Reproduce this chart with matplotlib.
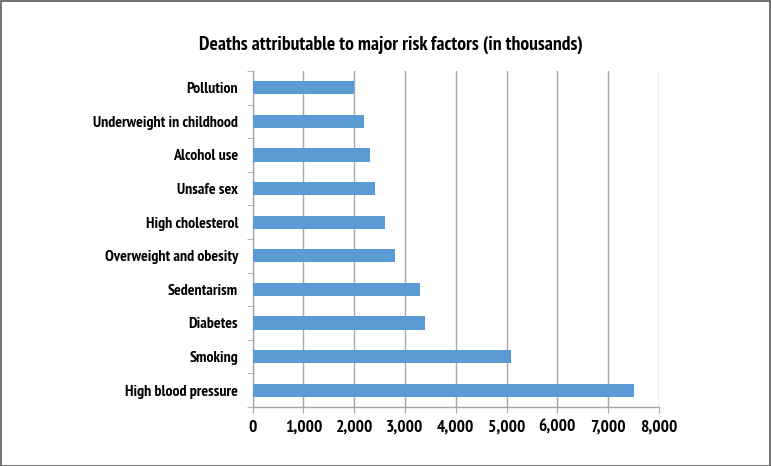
import matplotlib
matplotlib.use("Agg")
import matplotlib.pyplot as plt
from matplotlib import font_manager as fm
from matplotlib.ticker import FuncFormatter
from matplotlib.patches import Rectangle

categories = ["High blood pressure", "Smoking", "Diabetes", "Sedentarism",
              "Overweight and obesity", "High cholesterol", "Unsafe sex",
              "Alcohol use", "Underweight in childhood", "Pollution"]
values = [7500, 5080, 3400, 3300, 2800, 2600, 2400, 2300, 2200, 2000]
xticks = [0, 1000, 2000, 3000, 4000, 5000, 6000, 7000, 8000]
title = "Deaths attributable to major risk factors (in thousands)"

preferred = ["Liberation Sans Narrow", "Arial Narrow", "PT Sans Narrow",
             "Roboto Condensed", "Open Sans Condensed", "Asap Condensed",
             "Barlow Semi Condensed", "Liberation Sans"]
bold_fams = {f.name for f in fm.fontManager.ttflist
             if (f.weight == 700 or f.weight == "bold") and "wght" not in f.fname}
font = next((p for p in preferred if p in bold_fams), "Liberation Sans")
plt.rcParams['font.family'] = [font, 'DejaVu Sans']

fig = plt.figure(figsize=(7.71, 4.66), dpi=100)
ax = fig.add_axes([252.7/771, 1 - 407/466, (659-252.7)/771, (407-71)/466])

ax.barh(range(len(categories)), values, height=0.39, color="#5B9BD5", zorder=3)
ax.set_ylim(-0.5, len(categories) - 0.5)
ax.set_xlim(0, 8000)
ax.set_xticks(xticks)
ax.xaxis.set_major_formatter(FuncFormatter(lambda v, p: f"{int(v):,}"))
ax.set_yticks(range(len(categories)))
ax.set_yticklabels(categories)
ax.set_yticks([i - 0.5 for i in range(len(categories) + 1)], minor=True)

ax.grid(axis="x", color="#A6A6A6", linewidth=1.0, zorder=0)
for s in ["top", "right"]:
    ax.spines[s].set_visible(False)
for s in ["left", "bottom"]:
    ax.spines[s].set_color("#A6A6A6")
    ax.spines[s].set_linewidth(1.0)

ax.tick_params(axis="y", which="major", length=0, pad=10.5)
ax.tick_params(axis="y", which="minor", length=4, color="#A6A6A6")
ax.tick_params(axis="x", which="major", length=4, color="#A6A6A6", pad=5)

ttl = fig.text(390.5/771, 1 - 44.7/466, title, ha="center", va="center",
               fontsize=13, fontweight="bold")

ylabs = ax.get_yticklabels()
xlabs = ax.get_xticklabels()
for lab in ylabs:
    lab.set_fontsize(10)
    lab.set_fontweight("bold")
for lab in xlabs:
    lab.set_fontsize(13)
    lab.set_fontweight("bold")

# fit font sizes to the widths seen in the reference
r = fig.canvas.get_renderer()
def fit(txt, target, base):
    w = txt.get_window_extent(r).width
    return base * target / w
s_title = fit(ttl, 384, 13)
s_y = fit(ylabs[categories.index("Underweight in childhood")], 146.6, 10)
s_x = 0.5 * (fit(xlabs[1], 36, 13) + 13)
ttl.set_fontsize(s_title)
for lab in ylabs:
    lab.set_fontsize(s_y)
for lab in xlabs:
    lab.set_fontsize(s_x)

fig.patches.append(Rectangle((0.5/771, 0.5/466), 769.5/771, 464.5/466,
                             transform=fig.transFigure, fill=False,
                             edgecolor="#595959", linewidth=1.2))

fig.savefig("out.png", dpi=100)
